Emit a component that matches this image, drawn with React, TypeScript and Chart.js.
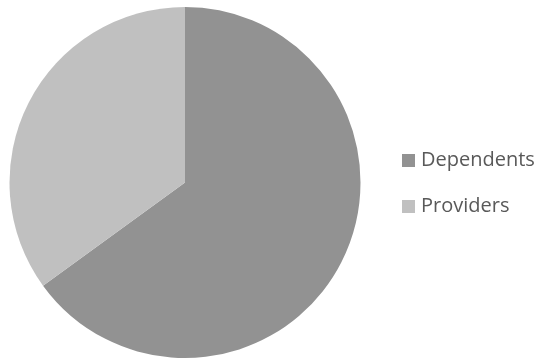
import React, { useEffect, useRef } from "react";
import { Chart, registerables } from "chart.js";

Chart.register(...registerables);

const categories = ["Dependents", "Providers"];
const values = [65, 35];
const colors = ["#929292", "#c0c0c0"];

const legendPlugin = {
  id: "sideLegend",
  afterDraw(chart: any) {
    const ctx = chart.ctx;
    const labels = chart.data.labels as string[];
    const bg = chart.data.datasets[0].backgroundColor as string[];
    ctx.save();
    ctx.font = "20px 'Open Sans'";
    ctx.textBaseline = "middle";
    labels.forEach((lab, i) => {
      const cy = 160 + i * 46;
      ctx.fillStyle = bg[i];
      ctx.fillRect(402, cy - 6, 13, 13);
      ctx.fillStyle = "#595959";
      ctx.fillText(lab, 421, cy);
    });
    ctx.restore();
  },
};

export default function App() {
  const ref = useRef<HTMLCanvasElement>(null);
  useEffect(() => {
    document.body.style.margin = "0";
    const chart = new Chart(ref.current!, {
      type: "pie",
      data: {
        labels: categories,
        datasets: [
          {
            data: values,
            backgroundColor: colors,
            borderWidth: 0,
          },
        ],
      },
      options: {
        animation: false,
        responsive: false,
        layout: { padding: { left: 9, right: 182, top: 7, bottom: 4 } },
        plugins: { legend: { display: false }, tooltip: { enabled: false } },
      },
      plugins: [legendPlugin],
    });
    return () => chart.destroy();
  }, []);
  return <canvas ref={ref} width={543} height={362} style={{ display: "block" }} />;
}
